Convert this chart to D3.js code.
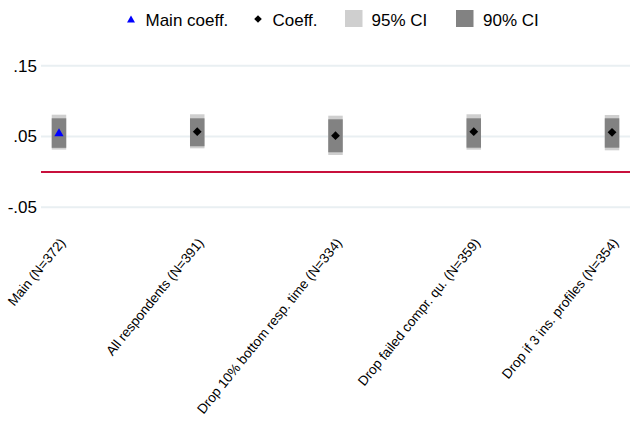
<!DOCTYPE html>
<html><head><meta charset="utf-8">
<script src="https://cdn.jsdelivr.net/npm/d3@7"></script>
<style>
html,body{margin:0;padding:0;background:#fff;}
svg{display:block;font-family:"Liberation Sans",Arial,sans-serif;}
</style></head>
<body>
<svg id="c" width="630" height="430"></svg>
<script>
const categories = ["Main (N=372)","All respondents (N=391)","Drop 10% bottom resp. time (N=334)","Drop failed compr. qu. (N=359)","Drop if 3 ins. profiles (N=354)"];
const coef   = [0.0568, 0.0568, 0.0511, 0.0568, 0.0559];
const ci90lo = [0.0340, 0.0362, 0.0277, 0.0342, 0.0342];
const ci90hi = [0.0757, 0.0757, 0.0743, 0.0757, 0.0757];
const ci95lo = [0.0315, 0.0333, 0.0239, 0.0314, 0.0305];
const ci95hi = [0.0808, 0.0814, 0.0794, 0.0814, 0.0804];
const isMain = [true, false, false, false, false];
const yTicks = [-0.05, 0.05, 0.15];
const legendLabels = ["Main coeff.", "Coeff.", "95% CI", "90% CI"];

const svg = d3.select("#c");
const x = d3.scalePoint().domain(categories).range([41, 630]).padding(0.13);
const y = d3.scaleLinear().domain([-0.05, 0.15]).range([207.3, 65.7]);
const fmt = v => (v < 0 ? "-" : "") + Math.abs(v).toFixed(2).replace(/^0\./, ".");

// gridlines
svg.append("g").selectAll("line").data(yTicks).join("line")
  .attr("x1", 41).attr("x2", 630)
  .attr("y1", d => y(d)).attr("y2", d => y(d))
  .attr("stroke", "#e9eff2").attr("stroke-width", 2);

// y axis
const yAxis = svg.append("g").attr("transform", "translate(41,0)")
  .call(d3.axisLeft(y).tickValues(yTicks).tickFormat(fmt).tickSize(0).tickPadding(4));
yAxis.select(".domain").remove();
yAxis.selectAll("text").attr("font-size", 17).attr("fill", "#000")
  .attr("font-family", "Liberation Sans, Arial, sans-serif");

// zero line
svg.append("line").attr("x1", 41).attr("x2", 630)
  .attr("y1", y(0)).attr("y2", y(0))
  .attr("stroke", "#c8103c").attr("stroke-width", 2);

const bw = 14.5;
const idx = d3.range(categories.length);
// 95% CI
svg.append("g").selectAll("rect").data(idx).join("rect")
  .attr("x", i => x(categories[i]) - bw/2).attr("width", bw)
  .attr("y", i => y(ci95hi[i])).attr("height", i => y(ci95lo[i]) - y(ci95hi[i]))
  .attr("fill", "#cfcfcf");
// 90% CI
svg.append("g").selectAll("rect").data(idx).join("rect")
  .attr("x", i => x(categories[i]) - bw/2).attr("width", bw)
  .attr("y", i => y(ci90hi[i])).attr("height", i => y(ci90lo[i]) - y(ci90hi[i]))
  .attr("fill", "#828282");

function tri(cx, cy, w, h){ return `M${cx},${cy-h/2}L${cx+w/2},${cy+h/2}L${cx-w/2},${cy+h/2}Z`; }
function dia(cx, cy, r){ return `M${cx},${cy-r}L${cx+r},${cy}L${cx},${cy+r}L${cx-r},${cy}Z`; }

svg.append("g").selectAll("path").data(idx).join("path")
  .attr("d", i => isMain[i] ? tri(x(categories[i]), y(coef[i]) + 0.5, 9.3, 8) : dia(x(categories[i]), y(coef[i]), 4.4))
  .attr("fill", i => isMain[i] ? "#0000ff" : "#000");

// x labels
svg.append("g").selectAll("text").data(categories).join("text")
  .attr("transform", d => `translate(${x(d) + 7},${243}) rotate(-51)`)
  .attr("text-anchor", "end")
  .attr("font-size", 13.5).attr("fill", "#000")
  .text(d => d);

// legend
const lg = svg.append("g");
lg.append("path").attr("d", tri(131, 19, 8, 7)).attr("fill", "#0000ff");
lg.append("text").attr("x", 145.5).attr("y", 25.5).attr("font-size", 17).text(legendLabels[0]);
lg.append("path").attr("d", dia(258, 19, 3.8)).attr("fill", "#000");
lg.append("text").attr("x", 272.5).attr("y", 25.5).attr("font-size", 17).text(legendLabels[1]);
lg.append("rect").attr("x", 345).attr("y", 10).attr("width", 17.5).attr("height", 17).attr("fill", "#cfcfcf");
lg.append("text").attr("x", 371.5).attr("y", 25.5).attr("font-size", 17).text(legendLabels[2]);
lg.append("rect").attr("x", 456).attr("y", 10).attr("width", 17.5).attr("height", 17).attr("fill", "#828282");
lg.append("text").attr("x", 483).attr("y", 25.5).attr("font-size", 17).text(legendLabels[3]);
</script>
</body></html>
